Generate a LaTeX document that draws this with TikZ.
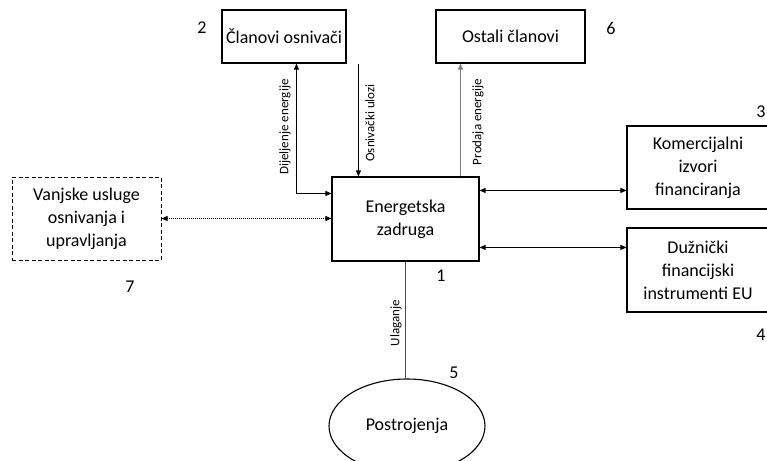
\documentclass[tikz,border=0pt]{standalone}
\usepackage{fontspec}
\setmainfont{Carlito}
\usetikzlibrary{arrows.meta,shapes.geometric,calc}
\begin{document}
\begin{tikzpicture}[x=1pt,y=-1pt,
  box/.style={draw,line width=1.1pt,align=center,inner sep=0pt,font=\fontsize{18}{23}\selectfont},
  num/.style={font=\fontsize{18}{21}\selectfont,inner sep=0pt},
  lab/.style={font=\fontsize{13}{15}\selectfont,rotate=90,inner sep=0pt},
  conn/.style={line width=1pt,-{Triangle[length=6pt,width=5pt]}},
  bconn/.style={line width=1pt,{Triangle[length=6pt,width=5pt]}-{Triangle[length=6pt,width=5pt]}}]
\useasboundingbox (0,0) rectangle (767,460);
\clip (0,0) rectangle (767,460);
\node[box,minimum width=124pt,minimum height=53pt] (clan) at (284,36.5) {Članovi osnivači};
\node[box,minimum width=149pt,minimum height=53pt] (ostali) at (510.5,36.5) {Ostali članovi};
\node[box,minimum width=147pt,minimum height=84pt] (ez) at (405.5,219) {Energetska\\zadruga};
\node[box,minimum width=142pt,minimum height=83pt] (kom) at (698,167.5) {Komercijalni\\izvori\\financiranja};
\node[box,minimum width=142pt,minimum height=84pt] (duz) at (698,270) {Dužnički\\financijski\\instrumenti EU};
\node[box,line width=1pt,dash pattern=on 4pt off 2.5pt,minimum width=149pt,minimum height=83pt] (van) at (86.5,218.5) {Vanjske usluge\\osnivanja i\\upravljanja};
\node[draw,line width=1.1pt,ellipse,minimum width=156pt,minimum height=94pt,inner sep=0pt,font=\fontsize{18}{21}\selectfont] (pos) at (407,426) {Postrojenja};
\node[num] (n2) at (202,28) {2};
\node[num] (n6) at (611,28) {6};
\node[num] (n3) at (761,112) {3};
\node[num] (n4) at (761,335) {4};
\node[num] (n1) at (441,276) {1};
\node[num] (n5) at (454,373) {5};
\node[num] (n7) at (130,287) {7};
% connectors
\coordinate (d1) at ($(clan.south west)+(75,0)$);
\coordinate (d2) at ($(ez.north west)+(0,17)$);
\draw[bconn] (d1) |- (d2);
\coordinate (o1) at ($(clan.south west)+(137,0)$);
\draw[conn] (o1) -- (o1 |- ez.north);
\coordinate (p1) at ($(ez.north west)+(129,0)$);
\draw[conn,gray] (p1) -- (p1 |- ostali.south);
\draw[bconn] ($(ez.north east)+(0,14)$) coordinate (k1) -- (k1 -| kom.west);
\draw[bconn] ($(ez.north east)+(0,71)$) coordinate (k2) -- (k2 -| duz.west);
\draw[bconn,densely dotted] (van.east) -- (van.east -| ez.west);
\coordinate (u1) at ($(ez.south west)+(74,0)$);
\draw[line width=1.1pt,black!70] (u1) -- (u1 |- pos.north);
% labels
\node[lab] (l1) at (285,127) {Dijeljenje energije};
\node[lab] (l2) at (370,123) {Osnivački ulozi};
\node[lab] (l3) at (478,122) {Prodaja energije};
\node[lab] (l4) at (396,323) {Ulaganje};
\end{tikzpicture}
\end{document}
